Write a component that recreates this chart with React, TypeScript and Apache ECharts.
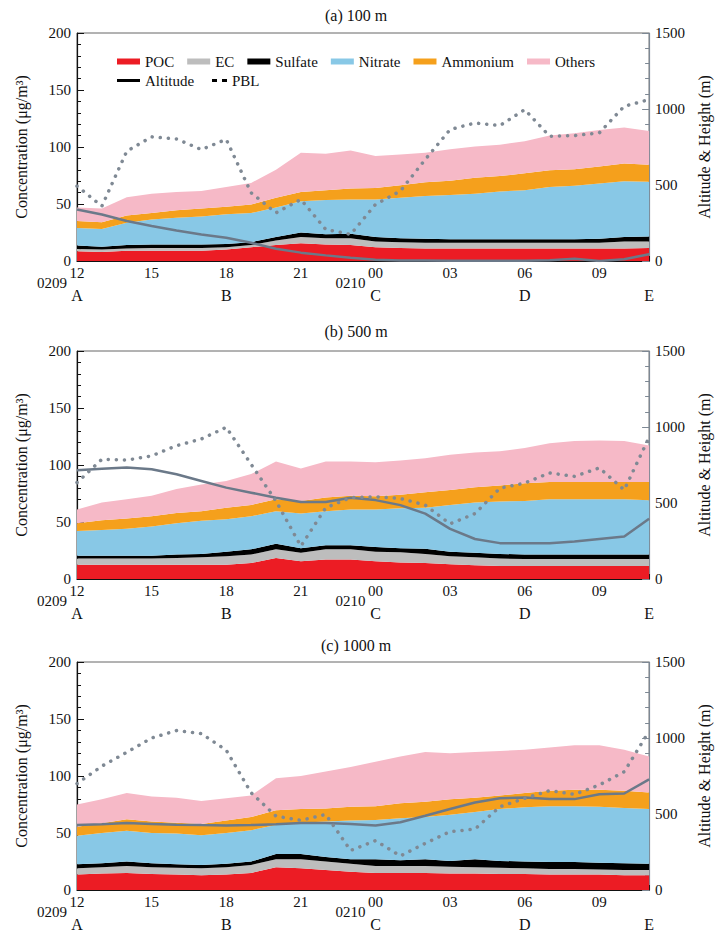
import React, { useEffect, useRef } from 'react';
import * as echarts from 'echarts';

// Hourly time axis, 12:00 on 02-09 through 11:00 on 02-10
const HOURS = ['12', '13', '14', '15', '16', '17', '18', '19', '20', '21', '22', '23',
  '00', '01', '02', '03', '04', '05', '06', '07', '08', '09', '10', '11'];
const SITES = ['A', '', '', '', '', '', 'B', '', '', '', '', '', 'C', '', '', '', '', '', 'D', '', '', '', '', 'E'];
const DATE_INDEX = [0, 12];
const DATE_TEXT = ['0209', '0210'];

const SPECIES = ['POC', 'EC', 'Sulfate', 'Nitrate', 'Ammonium', 'Others'];
const SPECIES_COLORS = ['#ec1c24', '#bdbdbd', '#000000', '#88c8e6', '#f5a01c', '#f6b9c7'];

// (a) 100 m
const POC_100 = [8.5, 8, 9, 9, 9, 9, 10, 12, 14, 15.5, 14.5, 14, 12, 11.5, 11, 11, 11, 11, 11, 11, 11, 11, 11, 11.5];
const EC_100 = [2, 2, 2, 2.5, 2.5, 2.5, 2, 2, 4, 5.5, 5.5, 6, 5, 5, 5, 5, 5, 5, 5, 5, 5, 5, 6, 5.5];
const SULFATE_100 = [3, 2.5, 3, 3, 3, 3, 3, 2.5, 3, 4, 3.5, 4, 4, 3.5, 3.5, 3, 3, 3, 3, 3, 3, 3.5, 4, 4.5];
const NITRATE_100 = [15.5, 15.5, 19.5, 22, 23.5, 24.5, 26, 25.5, 26, 27.5, 30, 30, 33, 35.5, 37.5, 39, 40, 42, 43, 46, 47, 48.5, 49, 48];
const AMMONIUM_100 = [6, 6, 6.5, 5.5, 6.5, 7, 6.5, 7.5, 8.5, 8, 8.5, 9.5, 10, 11, 12, 12.5, 14, 13.5, 15, 14.5, 14.5, 15, 15.5, 15];
const OTHERS_100 = [12, 12, 16, 17, 16, 15.5, 17.5, 19, 24.5, 34.5, 32, 33.5, 28, 27, 26, 27.5, 27.5, 27.5, 28, 30.5, 31.5, 32, 31.5, 29.5];
const ALT_100 = [339, 306, 263, 230, 201, 175, 153, 120, 81, 55, 37, 22, 8, 4, 3, 2, 2, 2, 2, 5, 15, 0, 12, 45];
const PBL_100 = [493, 361, 722, 817, 803, 733, 800, 449, 317, 405, 208, 175, 372, 460, 668, 865, 908, 891, 996, 821, 825, 843, 1018, 1062];

// (b) 500 m
const POC_500 = [12.5, 12.5, 12.5, 12.5, 12.5, 12.5, 12.5, 14, 18.5, 15.5, 17, 17, 15.5, 14.5, 14, 13, 12, 11.5, 11.5, 11.5, 11.5, 11.5, 11.5, 11.5];
const EC_500 = [5.5, 5.5, 5.5, 5.5, 6, 6.5, 7.5, 7.5, 7.5, 7.5, 9, 9, 8.5, 9, 8, 7, 7, 6.5, 6, 6, 6, 6, 6, 6];
const SULFATE_500 = [2.5, 2.5, 2.5, 2.5, 3, 3, 4, 4.5, 5, 4, 3.5, 3.5, 4, 3.5, 4.5, 4, 4, 4, 4, 4, 4, 4, 4, 4];
const NITRATE_500 = [21.5, 22.5, 23.5, 25.5, 27.5, 29, 28.5, 29, 28.5, 30.5, 30, 31.5, 33, 35, 36, 41, 44, 46, 47, 48.5, 48.5, 48.5, 48.5, 47.5];
const AMMONIUM_500 = [7, 8.5, 9, 9, 9, 8.5, 10, 10, 10.5, 11, 12, 12, 11.5, 12, 13.5, 13, 13.5, 14, 15.5, 15, 15, 15, 15, 16];
const OTHERS_500 = [12, 15.5, 17, 18, 21, 23.5, 23.5, 27, 33, 28.5, 31.5, 30, 30, 30, 30, 31, 30.5, 30, 31, 34, 36, 36.5, 36, 32];
const ALT_500 = [716, 725, 733, 722, 689, 645, 601, 568, 535, 507, 507, 535, 519, 486, 430, 330, 263, 236, 236, 236, 247, 263, 279, 397];
const PBL_500 = [634, 788, 782, 810, 877, 921, 998, 755, 513, 216, 469, 535, 541, 530, 486, 363, 430, 597, 631, 698, 675, 731, 586, 932];

// (c) 1000 m
const POC_1000 = [13.5, 14.5, 15, 14, 13.5, 13, 13.5, 15, 20, 19, 17.5, 16, 15, 15, 15, 14.5, 14.5, 14, 14, 13.5, 13.5, 13.5, 13, 13];
const EC_1000 = [5.5, 5.5, 6, 6, 6, 6, 6.5, 7, 7, 8, 7.5, 7, 6, 6, 6, 6, 5.5, 5.5, 5, 5, 5, 4.5, 4.5, 4.5];
const SULFATE_1000 = [3.5, 3.5, 4, 3.5, 3, 3, 3, 3, 4.5, 4.5, 4, 4, 6, 5, 6, 5, 7, 6, 6, 6, 6, 6, 6, 5.5];
const NITRATE_1000 = [25, 26.5, 27, 26.5, 27, 26, 27, 27.5, 25.5, 27.5, 31, 34, 34.5, 37, 37, 40.5, 41.5, 45.5, 47.5, 49, 49, 49, 48.5, 48];
const AMMONIUM_1000 = [8, 8.5, 10, 10, 9.5, 10, 11, 11.5, 13, 12, 11.5, 12, 12, 13, 13.5, 13.5, 12.5, 12, 12.5, 13.5, 14.5, 15, 15, 14.5];
const OTHERS_1000 = [19.5, 21, 23, 22, 22, 20, 19.5, 19, 28, 29, 32.5, 35, 39, 41, 43.5, 40.5, 40, 39, 38, 38, 39, 39, 36, 31.5];
const ALT_1000 = [427, 432, 440, 435, 430, 427, 425, 427, 432, 440, 440, 435, 424, 446, 489, 533, 576, 604, 609, 598, 598, 630, 635, 728];
const PBL_1000 = [700, 815, 906, 1000, 1049, 1029, 920, 640, 486, 458, 497, 260, 325, 224, 307, 384, 401, 548, 603, 654, 629, 691, 778, 1045];

const PANEL_TITLES = ['(a) 100 m', '(b) 500 m', '(c) 1000 m'];
const PANEL_SPECIES = [
  [POC_100, EC_100, SULFATE_100, NITRATE_100, AMMONIUM_100, OTHERS_100],
  [POC_500, EC_500, SULFATE_500, NITRATE_500, AMMONIUM_500, OTHERS_500],
  [POC_1000, EC_1000, SULFATE_1000, NITRATE_1000, AMMONIUM_1000, OTHERS_1000],
];
const PANEL_ALT = [ALT_100, ALT_500, ALT_1000];
const PANEL_PBL = [PBL_100, PBL_500, PBL_1000];

const SERIF = '"Liberation Serif", "Times New Roman", Times, serif';
const GRID_LEFT = 77;
const GRID_WIDTH = 573;
const GRID_TOPS = [33, 351, 662];
const GRID_HEIGHT = 228;
const TITLE_Y = [15, 331, 645];
const ALT_COLOR = '#6b7989';
const PBL_COLOR = '#7f8994';
const RIGHT_AXIS_COLOR = '#7d8894';

function buildOption(): echarts.EChartsOption {
  const grid = PANEL_TITLES.map((_, i) => ({
    left: GRID_LEFT,
    width: GRID_WIDTH,
    top: GRID_TOPS[i],
    height: GRID_HEIGHT,
    show: true,
    borderColor: '#666',
    borderWidth: 1,
    backgroundColor: 'transparent',
  }));

  const xAxis = PANEL_TITLES.map((_, i) => ({
    type: 'category' as const,
    gridIndex: i,
    data: HOURS,
    boundaryGap: false,
    axisLine: { lineStyle: { color: '#111', width: 1.2 } },
    axisTick: { inside: true, interval: 0, length: 5, lineStyle: { color: '#111' } },
    axisLabel: {
      interval: 0,
      margin: 4,
      color: '#111',
      fontFamily: SERIF,
      formatter: (value: string, index: number) => {
        if (index === HOURS.length - 1) return `{h| }\n{l|${SITES[index]}}`;
        if (index % 3 !== 0) return '';
        return `{h|${value}}\n{l|${SITES[index] || ' '}}`;
      },
      rich: {
        h: { fontSize: 15, lineHeight: 16, fontFamily: SERIF, color: '#111' },
        l: { fontSize: 16, lineHeight: 28, fontFamily: SERIF, color: '#111' },
      },
    },
    splitLine: { show: false },
  }));

  const plainNumber = (v: number) => String(v);

  const yAxis: any[] = [];
  PANEL_TITLES.forEach((_, i) => {
    yAxis.push({
      type: 'value',
      gridIndex: i,
      position: 'left',
      min: 0,
      max: 200,
      interval: 50,
      name: 'Concentration (μg/m³)',
      nameLocation: 'middle',
      nameRotate: 90,
      nameGap: 48,
      nameTextStyle: { fontFamily: SERIF, fontSize: 16, color: '#111' },
      axisLine: { show: true, lineStyle: { color: '#111', width: 1.2 } },
      axisTick: { show: true, inside: true, length: 7, lineStyle: { color: '#111' } },
      minorTick: { show: true, splitNumber: 5, length: 4, lineStyle: { color: '#111' } },
      axisLabel: { margin: 6, fontFamily: SERIF, fontSize: 15, color: '#111', formatter: plainNumber },
      splitLine: { show: false },
    });
    yAxis.push({
      type: 'value',
      gridIndex: i,
      position: 'right',
      min: 0,
      max: 1500,
      interval: 500,
      name: 'Altitude & Height (m)',
      nameLocation: 'middle',
      nameRotate: 90,
      nameGap: 44,
      nameTextStyle: { fontFamily: SERIF, fontSize: 16, color: '#111' },
      axisLine: { show: true, lineStyle: { color: RIGHT_AXIS_COLOR, width: 1.2 } },
      axisTick: { show: true, inside: true, length: 7, lineStyle: { color: RIGHT_AXIS_COLOR } },
      minorTick: { show: true, splitNumber: 5, length: 4, lineStyle: { color: RIGHT_AXIS_COLOR } },
      axisLabel: { margin: 6, fontFamily: SERIF, fontSize: 15, color: '#111', formatter: plainNumber },
      splitLine: { show: false },
    });
  });

  const series: any[] = [];
  PANEL_SPECIES.forEach((group, i) => {
    group.forEach((values, j) => {
      series.push({
        type: 'line',
        name: SPECIES[j],
        xAxisIndex: i,
        yAxisIndex: 2 * i,
        stack: `panel${i}`,
        data: values,
        symbol: 'none',
        lineStyle: { width: 0, color: SPECIES_COLORS[j] },
        itemStyle: { color: SPECIES_COLORS[j] },
        areaStyle: { color: SPECIES_COLORS[j], opacity: 1 },
        z: 2,
      });
    });
    series.push({
      type: 'line',
      name: 'Altitude',
      xAxisIndex: i,
      yAxisIndex: 2 * i + 1,
      data: PANEL_ALT[i],
      symbol: 'none',
      lineStyle: { color: ALT_COLOR, width: 2.5 },
      itemStyle: { color: ALT_COLOR },
      z: 3,
    });
    series.push({
      type: 'line',
      name: 'PBL',
      xAxisIndex: i,
      yAxisIndex: 2 * i + 1,
      data: PANEL_PBL[i],
      symbol: 'none',
      lineStyle: { color: PBL_COLOR, width: 3.5, type: [0.1, 8], cap: 'round' },
      itemStyle: { color: PBL_COLOR },
      z: 4,
    });
  });

  const legendText = { fontFamily: SERIF, fontSize: 15, color: '#111' };
  const legend = [
    {
      left: 112,
      top: 49,
      itemWidth: 23,
      itemHeight: 6,
      itemGap: 13,
      icon: 'rect',
      selectedMode: false,
      textStyle: legendText,
      data: SPECIES,
    },
    {
      left: 112,
      top: 68,
      itemWidth: 23,
      itemHeight: 3,
      selectedMode: false,
      textStyle: legendText,
      data: [{ name: 'Altitude', icon: 'rect', itemStyle: { color: '#000' } }],
    },
    {
      left: 207,
      top: 68,
      itemWidth: 15,
      itemHeight: 3,
      selectedMode: false,
      textStyle: legendText,
      data: [{ name: 'PBL', icon: 'path://M0,0h5v3h-5z M10,0h5v3h-5z', itemStyle: { color: '#000' } }],
    },
  ];

  return {
    animation: false,
    backgroundColor: '#fff',
    grid,
    xAxis,
    yAxis,
    series,
    legend,
  } as any;
}

function textEl(text: string, x: number, y: number, align: string, size: number) {
  return {
    type: 'text',
    x,
    y,
    silent: true,
    style: {
      text,
      fontFamily: SERIF,
      fontSize: size,
      fill: '#111',
      align,
      verticalAlign: 'middle',
      textAlign: align,
      textVerticalAlign: 'middle',
    },
  };
}

export default function App() {
  const ref = useRef<HTMLDivElement>(null);

  useEffect(() => {
    if (!ref.current) return;
    const chart = echarts.init(ref.current, null, { renderer: 'svg' });
    chart.setOption(buildOption());

    // Panel titles and date markers below the time axis
    const graphics: any[] = [];
    PANEL_TITLES.forEach((title, i) => {
      const left = chart.convertToPixel({ xAxisIndex: i }, 0) as number;
      const right = chart.convertToPixel({ xAxisIndex: i }, HOURS.length - 1) as number;
      graphics.push(textEl(title, (left + right) / 2 - 7, TITLE_Y[i], 'center', 16));
      const bottom = GRID_TOPS[i] + GRID_HEIGHT;
      DATE_INDEX.forEach((idx, k) => {
        const px = chart.convertToPixel({ xAxisIndex: i }, idx) as number;
        graphics.push(textEl(DATE_TEXT[k], px - 10, bottom + 22, 'right', 15));
      });
    });
    chart.setOption({ graphic: graphics });

    return () => chart.dispose();
  }, []);

  return (
    <div
      ref={ref}
      style={{ position: 'absolute', left: 0, top: 0, width: 720, height: 942 }}
    />
  );
}
